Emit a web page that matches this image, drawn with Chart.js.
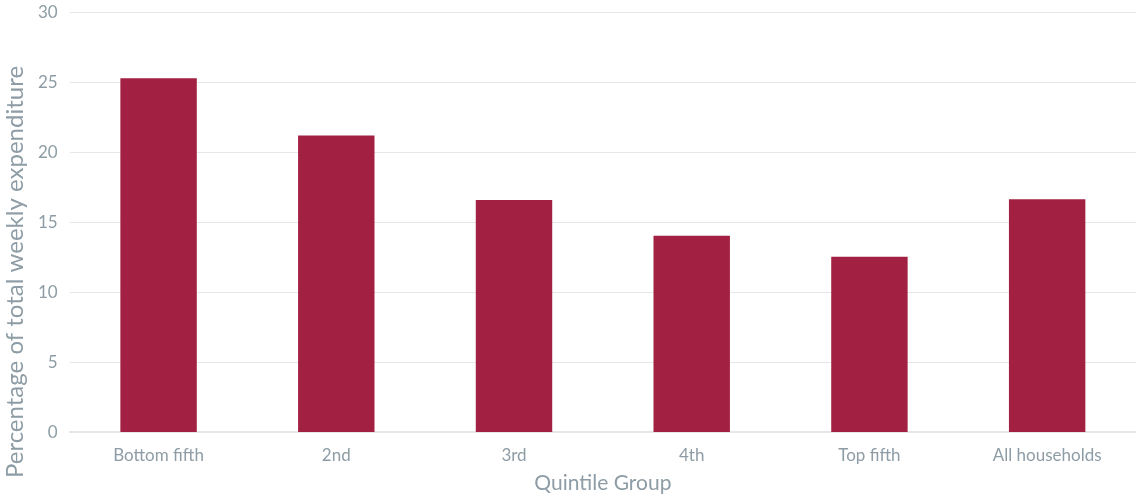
<!DOCTYPE html>
<html>
<head>
<meta charset="utf-8">
<script src="https://cdn.jsdelivr.net/npm/chart.js@4"></script>
<style>
  html, body { margin: 0; padding: 0; background: #fff; }
  #wrap { width: 1136px; height: 496px; }
</style>
</head>
<body>
<div id="wrap"><canvas id="chart"></canvas></div>
<script>
// カテゴリと値
const categories = ['Bottom fifth', '2nd', '3rd', '4th', 'Top fifth', 'All households'];
const shareValues = [25.3, 21.2, 16.6, 14.05, 12.55, 16.65];
const yTicks = [0, 5, 10, 15, 20, 25, 30];
const yTitle = 'Percentage of total weekly expenditure';
const xTitle = 'Quintile Group';

const textColor = '#8d9ca5';
const gridColor = '#e3e7ea';

// Y軸タイトルを少し下寄りに描く
const yTitlePlugin = {
    id: 'yTitle',
    afterDraw(chart) {
        const c = chart.ctx;
        c.save();
        c.translate(15, 272);
        c.rotate(-Math.PI / 2);
        c.fillStyle = textColor;
        c.font = '24px Lato';
        c.textAlign = 'center';
        c.textBaseline = 'middle';
        c.fillText(yTitle, 0, 0);
        c.restore();
    },
};

const ctx = document.getElementById('chart').getContext('2d');
new Chart(ctx, {
    type: 'bar',
    data: {
        labels: categories,
        datasets: [{
            label: 'Share',
            data: shareValues,
            backgroundColor: '#a22041',
            borderWidth: 0,
            categoryPercentage: 1,
            barPercentage: 0.43,
        }],
    },
    options: {
        responsive: true,
        maintainAspectRatio: false,
        animation: false,
        layout: { padding: { top: 6, right: 0, bottom: 0, left: 26 } },
        plugins: {
            legend: { display: false },
            tooltip: { enabled: false },
        },
        scales: {
            x: {
                grid: { display: false },
                border: { display: true, color: gridColor, width: 2 },
                ticks: { color: textColor, font: { family: 'Lato', size: 17 }, padding: 5 },
                title: {
                    display: true,
                    text: xTitle,
                    color: textColor,
                    font: { family: 'Lato', size: 21 },
                    padding: { top: 0, bottom: 0 },
                },
            },
            y: {
                min: 0,
                max: 30,
                afterBuildTicks: (axis) => { axis.ticks = yTicks.map(v => ({ value: v })); },
                grid: { color: gridColor, lineWidth: 1, drawTicks: false },
                border: { display: false },
                ticks: { color: textColor, font: { family: 'Lato', size: 17, lineHeight: 0.05 }, padding: 12 },
            },
        },
    },
    plugins: [yTitlePlugin],
});
</script>
</body>
</html>
